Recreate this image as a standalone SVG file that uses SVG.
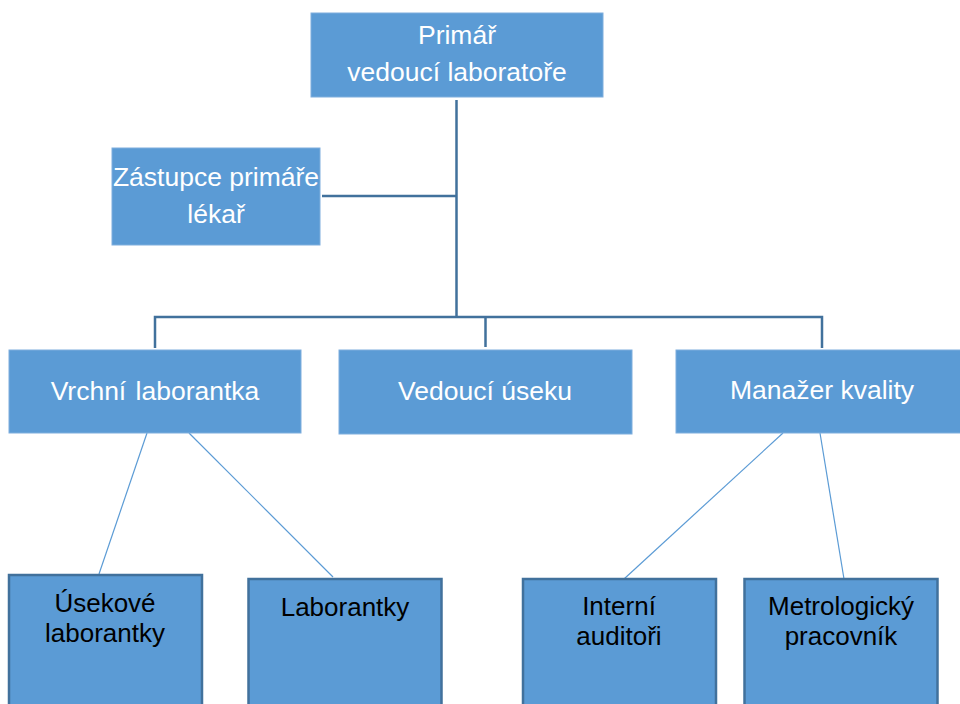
<svg xmlns="http://www.w3.org/2000/svg" width="960" height="704" viewBox="0 0 960 704">
<style>
.box{fill:#5B9BD5;stroke:#7FAEDD;stroke-width:1}
.leaf{fill:#5B9BD5;stroke:#41719C;stroke-width:2.5}
.wt{font-family:"Liberation Sans",Arial,sans-serif;font-size:26.5px;fill:#FFFFFF;text-anchor:middle}
.bt{font-family:"Liberation Sans",Arial,sans-serif;font-size:26px;fill:#000000;text-anchor:middle}
.tree{stroke:#41719C;stroke-width:2.5;fill:none}
.thin{stroke:#5B9BD5;stroke-width:1.2;fill:none}
</style>
<rect width="960" height="704" fill="#FFFFFF"/>
<g id="connectors">
<path class="tree" d="M456.5,100 V317 M322,196 H456.5 M155,348 V317 H822 V348 M485.5,317 V347"/>
<line class="thin" x1="147" y1="433" x2="99" y2="574"/>
<line class="thin" x1="189" y1="433" x2="333" y2="577"/>
<line class="thin" x1="783" y1="433" x2="624" y2="579"/>
<line class="thin" x1="820" y1="433" x2="844" y2="579"/>
</g>
<g id="primar">
<rect class="box" x="311" y="13" width="292" height="84"/>
<text class="wt" x="457" y="44">Primář</text>
<text class="wt" x="457" y="81">vedoucí laboratoře</text>
</g>
<g id="zastupce">
<rect class="box" x="112" y="148" width="208" height="97"/>
<text class="wt" x="216" y="186">Zástupce primáře</text>
<text class="wt" x="216" y="223">lékař</text>
</g>
<g id="vrchni">
<rect class="box" x="9" y="350" width="292" height="83"/>
<text class="wt" x="155" y="400" word-spacing="2">Vrchní laborantka</text>
</g>
<g id="vedouci">
<rect class="box" x="339" y="350" width="293" height="84"/>
<text class="wt" x="485" y="400">Vedoucí úseku</text>
</g>
<g id="manazer">
<rect class="box" x="676" y="350" width="290" height="83"/>
<text class="wt" x="822" y="399">Manažer kvality</text>
</g>
<g id="usekove">
<rect class="leaf" x="9" y="575" width="193" height="140"/>
<text class="bt" x="105" y="612">Úsekové</text>
<text class="bt" x="105" y="642">laborantky</text>
</g>
<g id="laborantky">
<rect class="leaf" x="248.5" y="579" width="193" height="140"/>
<text class="bt" x="345" y="616">Laborantky</text>
</g>
<g id="interni">
<rect class="leaf" x="523" y="579" width="193" height="140"/>
<text class="bt" x="619" y="615">Interní</text>
<text class="bt" x="619" y="645">auditoři</text>
</g>
<g id="metrolog">
<rect class="leaf" x="744.5" y="579" width="193" height="140"/>
<text class="bt" x="841" y="615">Metrologický</text>
<text class="bt" x="841" y="645">pracovník</text>
</g>
</svg>
